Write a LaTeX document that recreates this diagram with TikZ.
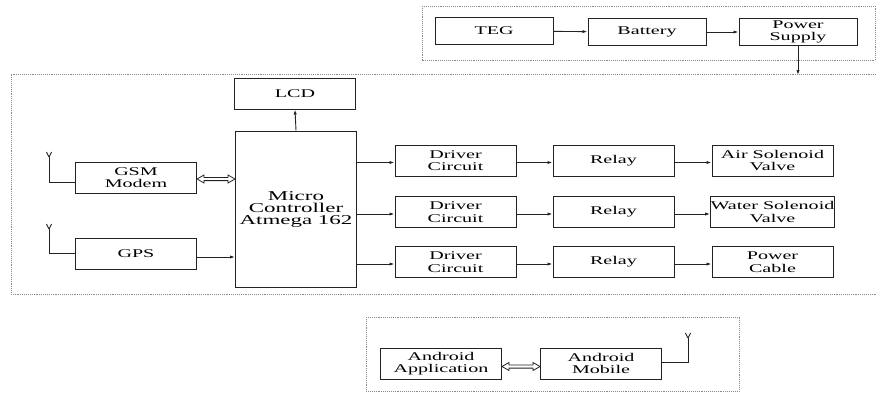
\documentclass[tikz,border=0pt]{standalone}
\usepackage{fontspec}
\setmainfont[FakeStretch=1.7]{Liberation Serif}
\usetikzlibrary{arrows.meta,calc}
\definecolor{ink}{HTML}{222222}
\definecolor{dotc}{HTML}{8A8A8A}
\tikzset{
  blk/.style={draw=ink, line width=1pt, minimum width=121pt, minimum height=31pt, inner sep=0pt,
    align=center, text=black, font=\fontsize{11.8}{12.5}\selectfont},
  sblk/.style={blk, minimum width=118pt, minimum height=27.5pt},
  conn/.style={draw=ink, line width=0.9pt, -{Latex[length=5pt,width=3.2pt]}},
  hollow/.style={draw=ink, line width=0.8pt, fill=white, line join=miter},
  wire/.style={draw=ink, line width=0.9pt},
  frame/.style={draw=dotc, line width=0.9pt, densely dotted}
}
\newcommand{\hdarrow}[2]{%
  \draw[hollow] (#1) -- ($(#1)+(7,-4)$) -- ($(#1)+(7,-1.6)$) -- ($(#2)+(-7,-1.6)$) -- ($(#2)+(-7,-4)$)
    -- (#2) -- ($(#2)+(-7,4)$) -- ($(#2)+(-7,1.6)$) -- ($(#1)+(7,1.6)$) -- ($(#1)+(7,4)$) -- cycle;}
\begin{document}
\begin{tikzpicture}[x=1pt, y=-1pt]
\useasboundingbox (0,0) rectangle (876,394);
\fill[white] (0,0) rectangle (876,394);
% dotted frames
\draw[frame] (422,6) rectangle (875,60);
\draw[frame] (876,74) -- (11,74) -- (11,294) -- (876,294);
\draw[frame] (366,317) rectangle (739,391);
% top power chain
\node[sblk] (teg) at (494,31) {TEG};
\node[sblk] (bat) at (647,32) {Battery};
\node[sblk] (ps) at (798,32) {Power\\Supply};
\draw[conn] (teg) -- (bat);
\draw[conn] (bat) -- (ps);
\coordinate (pstop) at (798,75);
\draw[conn] (ps.south) -- (pstop);
% main block
\node[blk] (lcd) at (295,93.5) {LCD};
\node[blk, minimum height=156pt, font=\fontsize{13.5}{12}\selectfont] (mc) at (296,209) {Micro\\Controller\\Atmega 162};
\node[blk] (gsm) at (136,177.5) {GSM\\Modem};
\node[blk] (gps) at (136,254) {GPS};
\draw[conn] (mc.north) -- (lcd.south);
\coordinate (g1) at ($(gsm.east)+(0,1.5)$);
\coordinate (g2) at ($(gsm.east -| mc.west)+(0,1.5)$);
\hdarrow{g1}{g2}
\draw[conn] ($(gps.east)+(0,3)$) -- ($(gps.east -| mc.west)+(0,3)$);
% antennas
\coordinate (a1) at (49,157);
\draw[wire] ($(gsm.west)+(0,4.5)$) -| (a1);
\draw[wire] (a1) -- ++(-2.6,-5) (a1) -- ++(2.6,-5);
\coordinate (a2) at (49,229);
\draw[wire] ($(gps.west)+(0,-1)$) -| (a2);
\draw[wire] (a2) -- ++(-2.6,-5) (a2) -- ++(2.6,-5);
% output rows
\node[blk] (d1) at (455.5,160.5) {Driver\\Circuit};
\node[blk] (r1) at (613.5,160.5) {Relay};
\node[blk] (o1) at (772.5,160.5) {Air Solenoid\\Valve};
\node[blk] (d2) at (455.5,212) {Driver\\Circuit};
\node[blk] (r2) at (613.5,212) {Relay};
\node[blk] (o2) at (772.5,212) {Water Solenoid\\Valve};
\node[blk] (d3) at (455.5,262) {Driver\\Circuit};
\node[blk] (r3) at (613.5,262) {Relay};
\node[blk] (o3) at (772.5,262) {Power\\Cable};
\foreach \i in {1,2,3}{
  \draw[conn] ($(mc.east |- d\i.west)+(0,2)$) -- ($(d\i.west)+(0,2)$);
  \draw[conn] ($(d\i.east)+(0,2)$) -- ($(r\i.west)+(0,2)$);
  \draw[conn] ($(r\i.east)+(0,2)$) -- ($(o\i.west)+(0,2)$);
}
% android
\node[blk] (app) at (441,363.5) {Android\\Application};
\node[blk] (mob) at (601,363.5) {Android\\Mobile};
\coordinate (m1) at ($(app.east)+(0,3)$);
\coordinate (m2) at ($(mob.west)+(0,3)$);
\hdarrow{m1}{m2}
\coordinate (a3) at (688,338);
\draw[wire] ($(mob.east)+(0,-1.5)$) -| (a3);
\draw[wire] (a3) -- ++(-2.6,-5) (a3) -- ++(2.6,-5);
\end{tikzpicture}
\end{document}
